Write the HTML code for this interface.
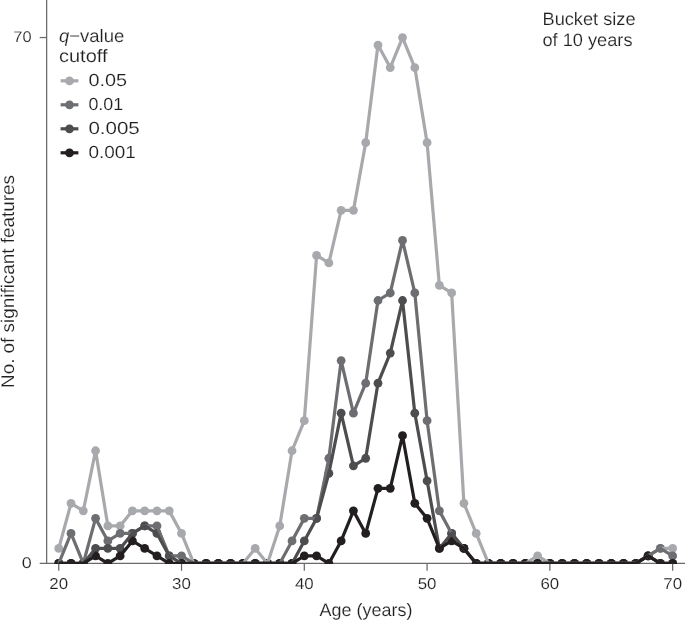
<!DOCTYPE html>
<html><head><meta charset="utf-8"><style>
html,body{margin:0;padding:0;background:#fff;width:685px;height:620px;overflow:hidden}
svg{display:block}
text{font-family:"Liberation Sans", sans-serif}
</style></head><body>
<svg width="685" height="620" viewBox="0 0 685 620">
<g stroke="#6a6a6c" stroke-width="1.25" fill="none">
<line x1="46.65" y1="0" x2="46.65" y2="563.45"/>
<line x1="39.7" y1="563.45" x2="685" y2="563.45"/>
<line x1="39.7" y1="37.54" x2="46.65" y2="37.54"/>
<line x1="58.75" y1="563.45" x2="58.75" y2="570.8"/>
<line x1="181.53" y1="563.45" x2="181.53" y2="570.8"/>
<line x1="304.31" y1="563.45" x2="304.31" y2="570.8"/>
<line x1="427.09" y1="563.45" x2="427.09" y2="570.8"/>
<line x1="549.87" y1="563.45" x2="549.87" y2="570.8"/>
<line x1="672.65" y1="563.45" x2="672.65" y2="570.8"/>
</g>
<defs><clipPath id="c"><rect x="47" y="0" width="640" height="564.0"/></clipPath></defs>
<g clip-path="url(#c)">
<g fill="#a7a9ac"><circle cx="58.75" cy="548.42" r="4.4"/><circle cx="71.03" cy="503.35" r="4.4"/><circle cx="83.31" cy="510.86" r="4.4"/><circle cx="95.58" cy="450.76" r="4.4"/><circle cx="107.86" cy="525.88" r="4.4"/><circle cx="120.14" cy="525.88" r="4.4"/><circle cx="132.42" cy="510.86" r="4.4"/><circle cx="144.70" cy="510.86" r="4.4"/><circle cx="156.97" cy="510.86" r="4.4"/><circle cx="169.25" cy="510.86" r="4.4"/><circle cx="181.53" cy="533.40" r="4.4"/><circle cx="193.81" cy="563.45" r="4.4"/><circle cx="206.09" cy="563.45" r="4.4"/><circle cx="218.36" cy="563.45" r="4.4"/><circle cx="230.64" cy="563.45" r="4.4"/><circle cx="242.92" cy="563.45" r="4.4"/><circle cx="255.20" cy="548.42" r="4.4"/><circle cx="267.48" cy="563.45" r="4.4"/><circle cx="279.75" cy="525.88" r="4.4"/><circle cx="292.03" cy="450.76" r="4.4"/><circle cx="304.31" cy="420.70" r="4.4"/><circle cx="316.59" cy="255.42" r="4.4"/><circle cx="328.87" cy="262.93" r="4.4"/><circle cx="341.14" cy="210.34" r="4.4"/><circle cx="353.42" cy="210.34" r="4.4"/><circle cx="365.70" cy="142.72" r="4.4"/><circle cx="377.98" cy="45.05" r="4.4"/><circle cx="390.26" cy="67.59" r="4.4"/><circle cx="402.53" cy="37.54" r="4.4"/><circle cx="414.81" cy="67.59" r="4.4"/><circle cx="427.09" cy="142.72" r="4.4"/><circle cx="439.37" cy="285.47" r="4.4"/><circle cx="451.65" cy="292.98" r="4.4"/><circle cx="463.92" cy="503.35" r="4.4"/><circle cx="476.20" cy="533.40" r="4.4"/><circle cx="488.48" cy="563.45" r="4.4"/><circle cx="500.76" cy="563.45" r="4.4"/><circle cx="513.04" cy="563.45" r="4.4"/><circle cx="525.31" cy="563.45" r="4.4"/><circle cx="537.59" cy="555.94" r="4.4"/><circle cx="549.87" cy="563.45" r="4.4"/><circle cx="562.15" cy="563.45" r="4.4"/><circle cx="574.43" cy="563.45" r="4.4"/><circle cx="586.70" cy="563.45" r="4.4"/><circle cx="598.98" cy="563.45" r="4.4"/><circle cx="611.26" cy="563.45" r="4.4"/><circle cx="623.54" cy="563.45" r="4.4"/><circle cx="635.82" cy="563.45" r="4.4"/><circle cx="648.09" cy="555.94" r="4.4"/><circle cx="660.37" cy="548.42" r="4.4"/><circle cx="672.65" cy="548.42" r="4.4"/></g>
<g fill="#6d6e71"><circle cx="58.75" cy="563.45" r="4.4"/><circle cx="71.03" cy="533.40" r="4.4"/><circle cx="83.31" cy="563.45" r="4.4"/><circle cx="95.58" cy="518.37" r="4.4"/><circle cx="107.86" cy="540.91" r="4.4"/><circle cx="120.14" cy="533.40" r="4.4"/><circle cx="132.42" cy="533.40" r="4.4"/><circle cx="144.70" cy="525.88" r="4.4"/><circle cx="156.97" cy="525.88" r="4.4"/><circle cx="169.25" cy="555.94" r="4.4"/><circle cx="181.53" cy="555.94" r="4.4"/><circle cx="193.81" cy="563.45" r="4.4"/><circle cx="206.09" cy="563.45" r="4.4"/><circle cx="218.36" cy="563.45" r="4.4"/><circle cx="230.64" cy="563.45" r="4.4"/><circle cx="242.92" cy="563.45" r="4.4"/><circle cx="255.20" cy="563.45" r="4.4"/><circle cx="267.48" cy="563.45" r="4.4"/><circle cx="279.75" cy="563.45" r="4.4"/><circle cx="292.03" cy="540.91" r="4.4"/><circle cx="304.31" cy="518.37" r="4.4"/><circle cx="316.59" cy="518.37" r="4.4"/><circle cx="328.87" cy="458.27" r="4.4"/><circle cx="341.14" cy="360.60" r="4.4"/><circle cx="353.42" cy="413.19" r="4.4"/><circle cx="365.70" cy="383.14" r="4.4"/><circle cx="377.98" cy="300.50" r="4.4"/><circle cx="390.26" cy="292.98" r="4.4"/><circle cx="402.53" cy="240.39" r="4.4"/><circle cx="414.81" cy="292.98" r="4.4"/><circle cx="427.09" cy="420.70" r="4.4"/><circle cx="439.37" cy="510.86" r="4.4"/><circle cx="451.65" cy="533.40" r="4.4"/><circle cx="463.92" cy="548.42" r="4.4"/><circle cx="476.20" cy="563.45" r="4.4"/><circle cx="488.48" cy="563.45" r="4.4"/><circle cx="500.76" cy="563.45" r="4.4"/><circle cx="513.04" cy="563.45" r="4.4"/><circle cx="525.31" cy="563.45" r="4.4"/><circle cx="537.59" cy="563.45" r="4.4"/><circle cx="549.87" cy="563.45" r="4.4"/><circle cx="562.15" cy="563.45" r="4.4"/><circle cx="574.43" cy="563.45" r="4.4"/><circle cx="586.70" cy="563.45" r="4.4"/><circle cx="598.98" cy="563.45" r="4.4"/><circle cx="611.26" cy="563.45" r="4.4"/><circle cx="623.54" cy="563.45" r="4.4"/><circle cx="635.82" cy="563.45" r="4.4"/><circle cx="648.09" cy="555.94" r="4.4"/><circle cx="660.37" cy="548.42" r="4.4"/><circle cx="672.65" cy="555.94" r="4.4"/></g>
<g fill="#4d4d4f"><circle cx="58.75" cy="563.45" r="4.4"/><circle cx="71.03" cy="563.45" r="4.4"/><circle cx="83.31" cy="563.45" r="4.4"/><circle cx="95.58" cy="548.42" r="4.4"/><circle cx="107.86" cy="548.42" r="4.4"/><circle cx="120.14" cy="548.42" r="4.4"/><circle cx="132.42" cy="533.40" r="4.4"/><circle cx="144.70" cy="525.88" r="4.4"/><circle cx="156.97" cy="533.40" r="4.4"/><circle cx="169.25" cy="555.94" r="4.4"/><circle cx="181.53" cy="563.45" r="4.4"/><circle cx="193.81" cy="563.45" r="4.4"/><circle cx="206.09" cy="563.45" r="4.4"/><circle cx="218.36" cy="563.45" r="4.4"/><circle cx="230.64" cy="563.45" r="4.4"/><circle cx="242.92" cy="563.45" r="4.4"/><circle cx="255.20" cy="563.45" r="4.4"/><circle cx="267.48" cy="563.45" r="4.4"/><circle cx="279.75" cy="563.45" r="4.4"/><circle cx="292.03" cy="563.45" r="4.4"/><circle cx="304.31" cy="540.91" r="4.4"/><circle cx="316.59" cy="518.37" r="4.4"/><circle cx="328.87" cy="473.29" r="4.4"/><circle cx="341.14" cy="413.19" r="4.4"/><circle cx="353.42" cy="465.78" r="4.4"/><circle cx="365.70" cy="458.27" r="4.4"/><circle cx="377.98" cy="383.14" r="4.4"/><circle cx="390.26" cy="353.09" r="4.4"/><circle cx="402.53" cy="300.50" r="4.4"/><circle cx="414.81" cy="413.19" r="4.4"/><circle cx="427.09" cy="480.81" r="4.4"/><circle cx="439.37" cy="548.42" r="4.4"/><circle cx="451.65" cy="533.40" r="4.4"/><circle cx="463.92" cy="548.42" r="4.4"/><circle cx="476.20" cy="563.45" r="4.4"/><circle cx="488.48" cy="563.45" r="4.4"/><circle cx="500.76" cy="563.45" r="4.4"/><circle cx="513.04" cy="563.45" r="4.4"/><circle cx="525.31" cy="563.45" r="4.4"/><circle cx="537.59" cy="563.45" r="4.4"/><circle cx="549.87" cy="563.45" r="4.4"/><circle cx="562.15" cy="563.45" r="4.4"/><circle cx="574.43" cy="563.45" r="4.4"/><circle cx="586.70" cy="563.45" r="4.4"/><circle cx="598.98" cy="563.45" r="4.4"/><circle cx="611.26" cy="563.45" r="4.4"/><circle cx="623.54" cy="563.45" r="4.4"/><circle cx="635.82" cy="563.45" r="4.4"/><circle cx="648.09" cy="555.94" r="4.4"/><circle cx="660.37" cy="563.45" r="4.4"/><circle cx="672.65" cy="563.45" r="4.4"/></g>
<g fill="#231f20"><circle cx="58.75" cy="563.45" r="4.4"/><circle cx="71.03" cy="563.45" r="4.4"/><circle cx="83.31" cy="563.45" r="4.4"/><circle cx="95.58" cy="555.94" r="4.4"/><circle cx="107.86" cy="563.45" r="4.4"/><circle cx="120.14" cy="555.94" r="4.4"/><circle cx="132.42" cy="540.91" r="4.4"/><circle cx="144.70" cy="548.42" r="4.4"/><circle cx="156.97" cy="555.94" r="4.4"/><circle cx="169.25" cy="563.45" r="4.4"/><circle cx="181.53" cy="563.45" r="4.4"/><circle cx="193.81" cy="563.45" r="4.4"/><circle cx="206.09" cy="563.45" r="4.4"/><circle cx="218.36" cy="563.45" r="4.4"/><circle cx="230.64" cy="563.45" r="4.4"/><circle cx="242.92" cy="563.45" r="4.4"/><circle cx="255.20" cy="563.45" r="4.4"/><circle cx="267.48" cy="563.45" r="4.4"/><circle cx="279.75" cy="563.45" r="4.4"/><circle cx="292.03" cy="563.45" r="4.4"/><circle cx="304.31" cy="555.94" r="4.4"/><circle cx="316.59" cy="555.94" r="4.4"/><circle cx="328.87" cy="563.45" r="4.4"/><circle cx="341.14" cy="540.91" r="4.4"/><circle cx="353.42" cy="510.86" r="4.4"/><circle cx="365.70" cy="533.40" r="4.4"/><circle cx="377.98" cy="488.32" r="4.4"/><circle cx="390.26" cy="488.32" r="4.4"/><circle cx="402.53" cy="435.73" r="4.4"/><circle cx="414.81" cy="503.35" r="4.4"/><circle cx="427.09" cy="518.37" r="4.4"/><circle cx="439.37" cy="548.42" r="4.4"/><circle cx="451.65" cy="540.91" r="4.4"/><circle cx="463.92" cy="548.42" r="4.4"/><circle cx="476.20" cy="563.45" r="4.4"/><circle cx="488.48" cy="563.45" r="4.4"/><circle cx="500.76" cy="563.45" r="4.4"/><circle cx="513.04" cy="563.45" r="4.4"/><circle cx="525.31" cy="563.45" r="4.4"/><circle cx="537.59" cy="563.45" r="4.4"/><circle cx="549.87" cy="563.45" r="4.4"/><circle cx="562.15" cy="563.45" r="4.4"/><circle cx="574.43" cy="563.45" r="4.4"/><circle cx="586.70" cy="563.45" r="4.4"/><circle cx="598.98" cy="563.45" r="4.4"/><circle cx="611.26" cy="563.45" r="4.4"/><circle cx="623.54" cy="563.45" r="4.4"/><circle cx="635.82" cy="563.45" r="4.4"/><circle cx="648.09" cy="555.94" r="4.4"/><circle cx="660.37" cy="563.45" r="4.4"/><circle cx="672.65" cy="563.45" r="4.4"/></g>
<polyline points="58.75,548.42 71.03,503.35 83.31,510.86 95.58,450.76 107.86,525.88 120.14,525.88 132.42,510.86 144.70,510.86 156.97,510.86 169.25,510.86 181.53,533.40 193.81,563.45 206.09,563.45 218.36,563.45 230.64,563.45 242.92,563.45 255.20,548.42 267.48,563.45 279.75,525.88 292.03,450.76 304.31,420.70 316.59,255.42 328.87,262.93 341.14,210.34 353.42,210.34 365.70,142.72 377.98,45.05 390.26,67.59 402.53,37.54 414.81,67.59 427.09,142.72 439.37,285.47 451.65,292.98 463.92,503.35 476.20,533.40 488.48,563.45 500.76,563.45 513.04,563.45 525.31,563.45 537.59,555.94 549.87,563.45 562.15,563.45 574.43,563.45 586.70,563.45 598.98,563.45 611.26,563.45 623.54,563.45 635.82,563.45 648.09,555.94 660.37,548.42 672.65,548.42" fill="none" stroke="#a7a9ac" stroke-width="3.2" stroke-linejoin="round"/>
<polyline points="58.75,563.45 71.03,533.40 83.31,563.45 95.58,518.37 107.86,540.91 120.14,533.40 132.42,533.40 144.70,525.88 156.97,525.88 169.25,555.94 181.53,555.94 193.81,563.45 206.09,563.45 218.36,563.45 230.64,563.45 242.92,563.45 255.20,563.45 267.48,563.45 279.75,563.45 292.03,540.91 304.31,518.37 316.59,518.37 328.87,458.27 341.14,360.60 353.42,413.19 365.70,383.14 377.98,300.50 390.26,292.98 402.53,240.39 414.81,292.98 427.09,420.70 439.37,510.86 451.65,533.40 463.92,548.42 476.20,563.45 488.48,563.45 500.76,563.45 513.04,563.45 525.31,563.45 537.59,563.45 549.87,563.45 562.15,563.45 574.43,563.45 586.70,563.45 598.98,563.45 611.26,563.45 623.54,563.45 635.82,563.45 648.09,555.94 660.37,548.42 672.65,555.94" fill="none" stroke="#6d6e71" stroke-width="3.2" stroke-linejoin="round"/>
<polyline points="58.75,563.45 71.03,563.45 83.31,563.45 95.58,548.42 107.86,548.42 120.14,548.42 132.42,533.40 144.70,525.88 156.97,533.40 169.25,555.94 181.53,563.45 193.81,563.45 206.09,563.45 218.36,563.45 230.64,563.45 242.92,563.45 255.20,563.45 267.48,563.45 279.75,563.45 292.03,563.45 304.31,540.91 316.59,518.37 328.87,473.29 341.14,413.19 353.42,465.78 365.70,458.27 377.98,383.14 390.26,353.09 402.53,300.50 414.81,413.19 427.09,480.81 439.37,548.42 451.65,533.40 463.92,548.42 476.20,563.45 488.48,563.45 500.76,563.45 513.04,563.45 525.31,563.45 537.59,563.45 549.87,563.45 562.15,563.45 574.43,563.45 586.70,563.45 598.98,563.45 611.26,563.45 623.54,563.45 635.82,563.45 648.09,555.94 660.37,563.45 672.65,563.45" fill="none" stroke="#4d4d4f" stroke-width="3.2" stroke-linejoin="round"/>
<polyline points="58.75,563.45 71.03,563.45 83.31,563.45 95.58,555.94 107.86,563.45 120.14,555.94 132.42,540.91 144.70,548.42 156.97,555.94 169.25,563.45 181.53,563.45 193.81,563.45 206.09,563.45 218.36,563.45 230.64,563.45 242.92,563.45 255.20,563.45 267.48,563.45 279.75,563.45 292.03,563.45 304.31,555.94 316.59,555.94 328.87,563.45 341.14,540.91 353.42,510.86 365.70,533.40 377.98,488.32 390.26,488.32 402.53,435.73 414.81,503.35 427.09,518.37 439.37,548.42 451.65,540.91 463.92,548.42 476.20,563.45 488.48,563.45 500.76,563.45 513.04,563.45 525.31,563.45 537.59,563.45 549.87,563.45 562.15,563.45 574.43,563.45 586.70,563.45 598.98,563.45 611.26,563.45 623.54,563.45 635.82,563.45 648.09,555.94 660.37,563.45 672.65,563.45" fill="none" stroke="#231f20" stroke-width="3.2" stroke-linejoin="round"/>
</g>
<g font-family="Liberation Sans, sans-serif" text-rendering="geometricPrecision" fill="#231f20" stroke="#fff" stroke-width="0.15" style="filter:grayscale(1)">
<text x="59.00" y="41.80" font-size="18" textLength="65.30" lengthAdjust="spacingAndGlyphs"><tspan font-style="italic">q</tspan>−value</text>
<text x="59.00" y="61.80" font-size="18" textLength="48.50" lengthAdjust="spacingAndGlyphs">cutoff</text>
<text x="88.40" y="85.80" font-size="17.5" textLength="38.60" lengthAdjust="spacingAndGlyphs">0.05</text>
<text x="88.40" y="109.80" font-size="17.5" textLength="34.80" lengthAdjust="spacingAndGlyphs">0.01</text>
<text x="88.40" y="133.80" font-size="17.5" textLength="51.40" lengthAdjust="spacingAndGlyphs">0.005</text>
<text x="88.40" y="157.80" font-size="17.5" textLength="47.40" lengthAdjust="spacingAndGlyphs">0.001</text>
<text x="542.50" y="24.95" font-size="18" textLength="93.00" lengthAdjust="spacingAndGlyphs">Bucket size</text>
<text x="542.50" y="46.00" font-size="18" textLength="90.00" lengthAdjust="spacingAndGlyphs">of 10 years</text>
<text x="319.50" y="615.70" font-size="18" textLength="92.90" lengthAdjust="spacingAndGlyphs">Age (years)</text>
<text x="13.30" y="41.95" font-size="15.4" textLength="18.30" lengthAdjust="spacingAndGlyphs">70</text>
<text x="21.80" y="567.85" font-size="15.4" textLength="10.00" lengthAdjust="spacingAndGlyphs">0</text>
<text x="58.75" y="589.20" font-size="15.7" textLength="18.80" lengthAdjust="spacingAndGlyphs" text-anchor="middle">20</text>
<text x="181.53" y="589.20" font-size="15.7" textLength="18.80" lengthAdjust="spacingAndGlyphs" text-anchor="middle">30</text>
<text x="304.31" y="589.20" font-size="15.7" textLength="18.80" lengthAdjust="spacingAndGlyphs" text-anchor="middle">40</text>
<text x="427.09" y="589.20" font-size="15.7" textLength="18.80" lengthAdjust="spacingAndGlyphs" text-anchor="middle">50</text>
<text x="549.87" y="589.20" font-size="15.7" textLength="18.80" lengthAdjust="spacingAndGlyphs" text-anchor="middle">60</text>
<text x="672.65" y="589.20" font-size="15.7" textLength="18.80" lengthAdjust="spacingAndGlyphs" text-anchor="middle">70</text>
<text transform="rotate(-90)" x="-388.00" y="13.90" font-size="18.4" textLength="213.00" lengthAdjust="spacingAndGlyphs">No. of significant features</text>
</g>
<line x1="60.6" y1="80.8" x2="78.4" y2="80.8" stroke="#a7a9ac" stroke-width="3.2"/>
<circle cx="69.5" cy="80.8" r="4.4" fill="#a7a9ac"/>
<line x1="60.6" y1="104.8" x2="78.4" y2="104.8" stroke="#6d6e71" stroke-width="3.2"/>
<circle cx="69.5" cy="104.8" r="4.4" fill="#6d6e71"/>
<line x1="60.6" y1="128.8" x2="78.4" y2="128.8" stroke="#4d4d4f" stroke-width="3.2"/>
<circle cx="69.5" cy="128.8" r="4.4" fill="#4d4d4f"/>
<line x1="60.6" y1="152.8" x2="78.4" y2="152.8" stroke="#231f20" stroke-width="3.2"/>
<circle cx="69.5" cy="152.8" r="4.4" fill="#231f20"/>
</svg>
</body></html>
